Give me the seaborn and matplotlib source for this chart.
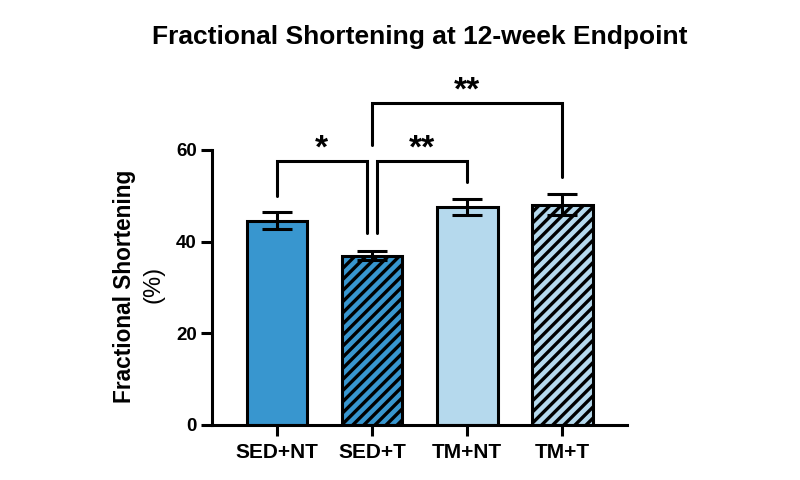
import matplotlib
matplotlib.use("Agg")
import matplotlib.pyplot as plt
import seaborn as sns
import numpy as np

groups = ["SED+NT", "SED+T", "TM+NT", "TM+T"]
means = [44.6, 36.9, 47.6, 48.1]
sems = [1.9, 1.0, 1.8, 2.3]
colors = ["#3896cf", "#3896cf", "#b5d9ed", "#b5d9ed"]
hatches = ["", "///", "", "///"]
title = "Fractional Shortening at 12-week Endpoint"
ylabel_main = "Fractional Shortening"
ylabel_unit = "(%)"
yticks = [0, 20, 40, 60]

sns.set_theme(style="ticks")
plt.rcParams['font.family'] = ['Liberation Sans', 'DejaVu Sans']
plt.rcParams['hatch.linewidth'] = 2.4
plt.rcParams['hatch.color'] = 'black'
plt.rcParams['text.color'] = 'black'
plt.rcParams['xtick.color'] = 'black'
plt.rcParams['ytick.color'] = 'black'

fig = plt.figure(figsize=(8, 4.8), dpi=100)
ax = fig.add_axes([0.265, 0.1146, 0.519, 0.5729])

sns.barplot(x=groups, y=means, hue=groups, palette=colors, legend=False,
            saturation=1, width=0.64, edgecolor="black", linewidth=2.2,
            ax=ax, errorbar=None)
for p, h in zip(ax.patches, hatches):
    p.set_hatch(h)
    p.set_edgecolor("black")

xs = np.arange(len(groups))
ax.errorbar(xs, means, yerr=sems, fmt="none", ecolor="black", elinewidth=2.2,
            capsize=10.5, capthick=2.2, zorder=1.5)

ax.set_ylim(0, 60)
ax.set_xlim(-0.684, 3.684)
ax.set_yticks(yticks)
ax.set_yticklabels([str(t) for t in yticks], fontsize=13.5, fontweight="bold")
ax.set_xticks(xs)
ax.set_xticklabels(groups, fontsize=15, fontweight="bold")
ax.tick_params(axis="both", width=2.2, length=8, color="black", labelcolor="black")
ax.tick_params(axis="y", pad=3)
ax.tick_params(axis="x", pad=5)
for s in ["left", "bottom"]:
    ax.spines[s].set_linewidth(2.2)
    ax.spines[s].set_color("black")
sns.despine(ax=ax)

ax.set_ylabel("")
fig.text(0.156, 0.403, ylabel_main, rotation=90, ha="center", va="center",
         fontsize=16.3, fontweight="bold")
fig.text(0.192, 0.408, ylabel_unit, rotation=90, ha="center", va="center",
         fontsize=17)

fig.text(0.525, 0.922, title, ha="center", va="center", fontsize=19, fontweight="bold")

def bracket(x1, x2, y, y1, y2, label, lx, ly):
    ax.plot([x1, x1, x2, x2], [y1, y, y, y2], color="black", lw=2.2,
            clip_on=False, solid_joinstyle="miter")
    ax.text(lx, ly, label, ha="center", va="center", fontsize=24,
            fontweight="bold", clip_on=False)

bracket(0, 0.95, 57.7, 50.0, 41.9, "*", 0.47, 60.3)
bracket(1.05, 2, 57.7, 41.9, 53.1, "**", 1.52, 60.3)
bracket(1, 3, 70.2, 61.1, 54.2, "**", 2.0, 72.8)

fig.savefig("out.png", dpi=100)
